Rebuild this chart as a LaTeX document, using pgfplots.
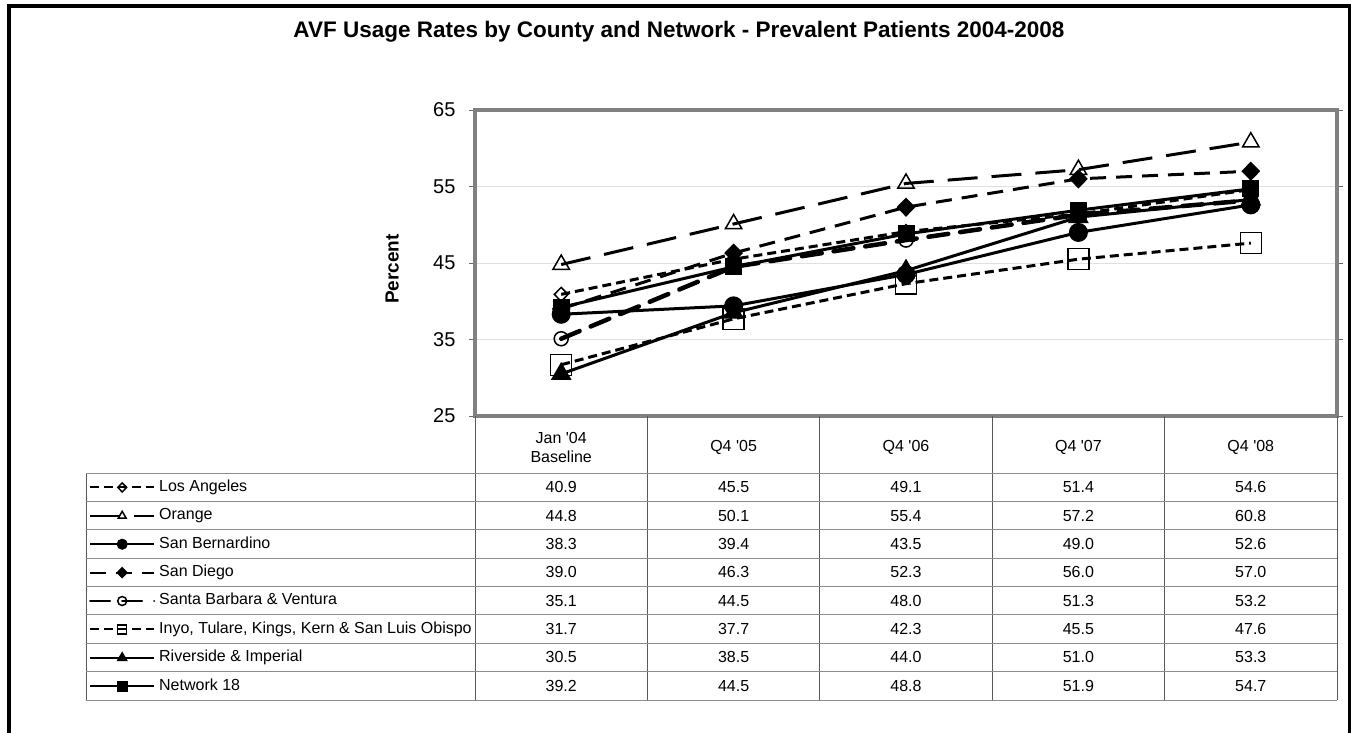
\documentclass[border=0pt]{standalone}
\usepackage{pgfplots}
\pgfplotsset{compat=1.18}
\usepackage{pgfplotstable}
\usepackage{fontspec}
\setmainfont{Liberation Sans}

% AVF usage (%), one column per county/network
\pgfplotstableread{
x la or sb sd sbv inyo riv net
0 40.9 44.8 38.3 39.0 35.1 31.7 30.5 39.2
1 45.5 50.1 39.4 46.3 44.5 37.7 38.5 44.5
2 49.1 55.4 43.5 52.3 48.0 42.3 44.0 48.8
3 51.4 57.2 49.0 56.0 51.3 45.5 51.0 51.9
4 54.6 60.8 52.6 57.0 53.2 47.6 53.3 54.7
}\avf

\newcommand{\tabfont}{\fontsize{16}{19}\selectfont}

\begin{document}
\begin{tikzpicture}[x=1pt,y=1pt]
\path[use as bounding box] (0,0) rectangle (1351,-732);
\draw[line width=4pt] (9,-745) -- (9,-5.5) -- (1350,-5.5) -- (1350,-745);
\node[font=\bfseries\fontsize{22.5}{26}\selectfont] at (679,-32)
  {AVF Usage Rates by County and Network - Prevalent Patients 2004-2008};

\begin{axis}[
  at={(475pt,-416pt)}, anchor=south west,
  scale only axis, width=862pt, height=306pt,
  xmin=-0.5, xmax=4.5, ymin=25, ymax=65,
  xtick=\empty, ytick={25,35,...,65},
  ymajorgrids, grid style={gray!25, line width=1pt},
  axis line style={black!50, line width=4pt},
  tick align=outside, major tick length=6pt,
  ytick style={black!60, line width=1pt},
  tick label style={font=\fontsize{20}{22}\selectfont},
  yticklabel style={xshift=-10pt},
  /pgf/number format/assume math mode=true,
  ylabel={Percent},
  ylabel style={font=\bfseries\fontsize{19}{22}\selectfont,
    at={(rel axis cs:-0.096,0.48)}, anchor=center},
  every axis plot/.append style={black, line width=3pt},
  legend image code/.code={\draw[mark repeat=2,mark phase=2,#1]
    plot coordinates {(0pt,0pt) (32pt,0pt) (64pt,0pt)};},
  legend image post style={line width=2pt, mark size=4.5pt},
  legend cell align=left,
  legend style={at={(rel axis cs:-0.4478,-0.1863)}, anchor=north west,
    draw=none, fill=none, inner sep=0pt, row sep=0pt, column sep=4pt,
    font=\tabfont,
    nodes={inner sep=0pt, text height=18pt, text depth=10.4pt, anchor=west}},
]
\addplot[dash pattern=on 9pt off 5pt, mark=diamond, mark size=7pt,
  mark options={solid, fill=white, line width=1.5pt, xscale=1.3}] table[x=x,y=la]{\avf};
\addplot[dash pattern=on 30pt off 14pt, mark=triangle, mark size=9.5pt,
  mark options={solid, fill=white, line width=1.5pt}] table[x=x,y=or]{\avf};
\addplot[solid, mark=*, mark size=8pt] table[x=x,y=sb]{\avf};
\addplot[dash pattern=on 16pt off 10pt, mark=diamond*, mark size=7.5pt,
  mark options={solid, xscale=1.3}] table[x=x,y=sd]{\avf};
\addplot[dash pattern=on 20pt off 12pt, line width=4.5pt, line cap=round,
  mark=o, mark size=7pt,
  mark options={solid, fill=white, line width=1.5pt}] table[x=x,y=sbv]{\avf};
\addplot[dash pattern=on 9pt off 5pt, mark=square, mark size=10.5pt,
  mark options={solid, fill=white, line width=1.5pt}] table[x=x,y=inyo]{\avf};
\addplot[solid, mark=triangle*, mark size=9pt] table[x=x,y=riv]{\avf};
\addplot[solid, mark=square*, mark size=7pt] table[x=x,y=net]{\avf};
\legend{Los Angeles, Orange, San Bernardino, San Diego,
  Santa Barbara \& Ventura, {Inyo, Tulare, Kings, Kern \& San Luis Obispo},
  Riverside \& Imperial, Network 18}
\end{axis}

% data table under the chart
\foreach \k in {0,...,5}
  \draw[black!65, line width=1pt] ({475+172.4*\k},-416) -- ({475+172.4*\k},-700);
\draw[black!65, line width=1pt] (86,-473) -- (86,-700);
\foreach \r in {0,...,8}
  \draw[black!45, line width=1pt] (86,{-473-28.375*\r}) -- (1337,{-473-28.375*\r});
\foreach \lab [count=\k from 0] in {{Jan \textquotesingle04\\Baseline},
    {Q4 \textquotesingle05}, {Q4 \textquotesingle06}, {Q4 \textquotesingle07}, {Q4 \textquotesingle08}}
  \node[font=\tabfont, align=center] at ({475+172.4*(\k+0.5)},-447) {\lab};
\foreach \col [count=\r from 0] in {la,or,sb,sd,sbv,inyo,riv,net} {
  \foreach \k in {0,...,4} {
    \pgfplotstablegetelem{\k}{\col}\of\avf
    \node[font=\tabfont] at ({475+172.4*(\k+0.5)},{-487.2-28.375*\r})
      {\pgfmathprintnumber[fixed, fixed zerofill, precision=1, assume math mode=true]{\pgfplotsretval}};
  }
}
\end{tikzpicture}
\end{document}
